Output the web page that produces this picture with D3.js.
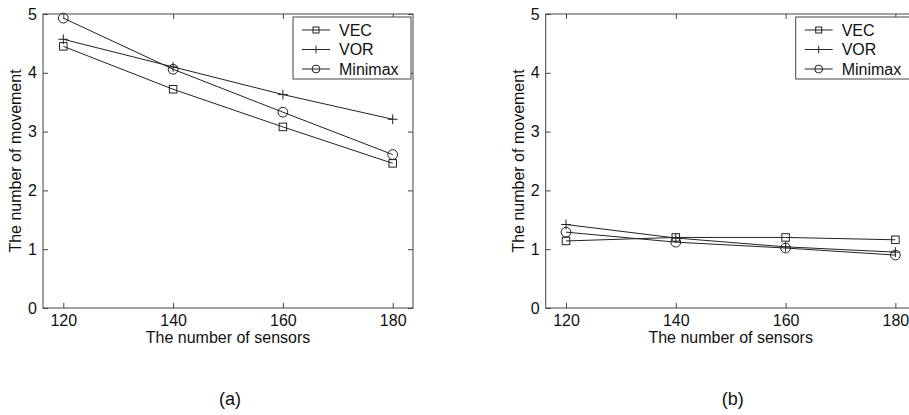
<!DOCTYPE html>
<html lang="en">
  <head>
    <meta charset="UTF-8" />
    <title>The number of movement</title>
    <script src="https://cdn.jsdelivr.net/npm/d3@7"></script>
    <style>
      body {
        margin: 0;
        padding: 0;
        background: #fff;
      }
      svg {
        display: block;
        font-family: "Liberation Sans", Arial, Helvetica, sans-serif;
      }
      .axis path {
        display: none;
      }
      .axis line {
        stroke: #444;
      }
      .axis text {
        font-size: 16px;
        fill: #111;
      }
    </style>
  </head>
  <body>
    <svg id="chart"></svg>

    <script>
      // datos
      const sensors = [120, 140, 160, 180];
      const yTicks = [0, 1, 2, 3, 4, 5];
      const seriesNames = ["VEC", "VOR", "Minimax"];

      // (a)
      const vecA = [4.45, 3.72, 3.08, 2.46];
      const vorA = [4.57, 4.1, 3.63, 3.21];
      const minimaxA = [4.93, 4.06, 3.33, 2.61];

      // (b)
      const vecB = [1.14, 1.2, 1.2, 1.16];
      const vorB = [1.42, 1.19, 1.04, 0.95];
      const minimaxB = [1.29, 1.12, 1.02, 0.9];

      const width = 909;
      const height = 415;
      const svg = d3.select("#chart").attr("width", width).attr("height", height);

      const plotTop = 14,
        plotBottom = 308,
        plotW = 370;

      function marker(g, type, size) {
        if (type == "VEC") {
          g.append("rect")
            .attr("x", -size / 2)
            .attr("y", -size / 2)
            .attr("width", size)
            .attr("height", size)
            .attr("fill", "none")
            .attr("stroke", "#222");
        } else if (type == "VOR") {
          const h = size * 0.65;
          g.append("path")
            .attr("d", `M${-h},0H${h}M0,${-h}V${h}`)
            .attr("stroke", "#222");
        } else {
          g.append("circle")
            .attr("r", size * 0.65)
            .attr("fill", "none")
            .attr("stroke", "#222");
        }
      }

      function drawPanel(left, data, label) {
        const x = d3.scaleLinear().domain([116.3, 183.7]).range([left, left + plotW]);
        const y = d3.scaleLinear().domain([0, 5]).range([plotBottom, plotTop]);
        const g = svg.append("g");

        // ejes con ticks hacia dentro en los cuatro lados
        g.append("g")
          .attr("class", "axis")
          .attr("transform", `translate(0,${plotBottom})`)
          .call(d3.axisBottom(x).tickValues(sensors).tickSizeInner(-5).tickSizeOuter(0).tickPadding(7));
        g.append("g")
          .attr("class", "axis")
          .attr("transform", `translate(0,${plotTop})`)
          .call(d3.axisTop(x).tickValues(sensors).tickSizeInner(-5).tickSizeOuter(0).tickFormat(""));
        g.append("g")
          .attr("class", "axis")
          .attr("transform", `translate(${left},0)`)
          .call(
            d3.axisLeft(y).tickValues(yTicks).tickFormat(d3.format("d")).tickSizeInner(-5).tickSizeOuter(0).tickPadding(6)
          );
        g.append("g")
          .attr("class", "axis")
          .attr("transform", `translate(${left + plotW},0)`)
          .call(d3.axisRight(y).tickValues(yTicks).tickSizeInner(-5).tickSizeOuter(0).tickFormat(""));

        g.append("rect")
          .attr("x", left)
          .attr("y", plotTop)
          .attr("width", plotW)
          .attr("height", plotBottom - plotTop)
          .attr("fill", "none")
          .attr("stroke", "#444");

        const line = d3
          .line()
          .x((d, i) => x(sensors[i]))
          .y((d) => y(d));

        data.forEach((vals, k) => {
          g.append("path")
            .attr("d", line(vals))
            .attr("fill", "none")
            .attr("stroke", "#222")
            .attr("stroke-width", 1);
          vals.forEach((v, i) => {
            const m = g.append("g").attr("transform", `translate(${x(sensors[i])},${y(v)})`);
            marker(m, seriesNames[k], 7.5);
          });
        });

        // leyenda
        const lx = left + 250,
          ly = 17;
        const leg = g.append("g").attr("transform", `translate(${lx},${ly})`);
        leg.append("rect")
          .attr("width", 118)
          .attr("height", 62)
          .attr("fill", "#fff")
          .attr("stroke", "#444");
        seriesNames.forEach((name, k) => {
          const ry = 13 + k * 19.5;
          leg.append("line")
            .attr("x1", 9)
            .attr("x2", 37)
            .attr("y1", ry)
            .attr("y2", ry)
            .attr("stroke", "#222");
          const m = leg.append("g").attr("transform", `translate(23,${ry})`);
          marker(m, name, 6);
          leg.append("text")
            .attr("x", 46)
            .attr("y", ry + 5.5)
            .attr("font-size", "16px")
            .attr("fill", "#111")
            .text(name);
        });

        g.append("text")
          .attr("x", left + plotW / 2)
          .attr("y", 343)
          .attr("text-anchor", "middle")
          .attr("font-size", "16px")
          .attr("fill", "#111")
          .text("The number of sensors");

        g.append("text")
          .attr("transform", `translate(${left - 22},${(plotTop + plotBottom) / 2}) rotate(-90)`)
          .attr("text-anchor", "middle")
          .attr("font-size", "16px")
          .attr("fill", "#111")
          .text("The number of movement");

        g.append("text")
          .attr("x", left + plotW / 2 + 2)
          .attr("y", 405)
          .attr("text-anchor", "middle")
          .attr("font-size", "18px")
          .attr("fill", "#111")
          .text(label);
      }

      drawPanel(43, [vecA, vorA, minimaxA], "(a)");
      drawPanel(545.7, [vecB, vorB, minimaxB], "(b)");
    </script>
  </body>
</html>
